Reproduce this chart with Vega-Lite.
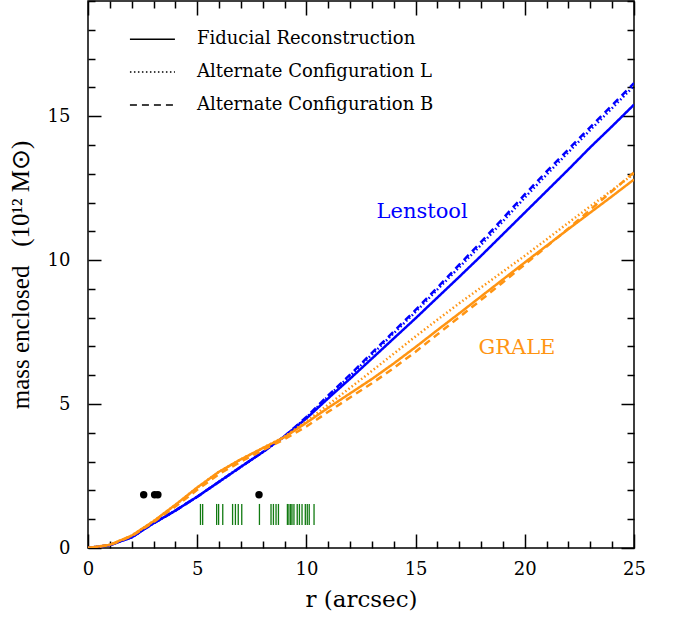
{
  "$schema": "https://vega.github.io/schema/vega-lite/v6.json",
  "width": 546,
  "height": 547,
  "autosize": "none",
  "padding": {"left": 88, "top": 1, "right": 47, "bottom": 69},
  "background": "white",
  "view": {"stroke": "black", "strokeWidth": 1.5},
  "config": {
    "font": "DejaVu Serif",
    "axis": {"domain": false, "grid": false, "tickColor": "black", "tickWidth": 1.5, "labelColor": "black", "labelFont": "DejaVu Serif", "labelFontSize": 18, "titleFont": "DejaVu Serif", "titleFontWeight": "normal", "titleColor": "black"}
  },
  "datasets": {
    "curves": [
      {"model": "Lenstool", "cfg": "F", "r": 0, "m": 0},
      {"model": "Lenstool", "cfg": "F", "r": 1, "m": 0.1},
      {"model": "Lenstool", "cfg": "F", "r": 2, "m": 0.37},
      {"model": "Lenstool", "cfg": "F", "r": 3, "m": 0.86},
      {"model": "Lenstool", "cfg": "F", "r": 4, "m": 1.3},
      {"model": "Lenstool", "cfg": "F", "r": 5, "m": 1.78},
      {"model": "Lenstool", "cfg": "F", "r": 6, "m": 2.3},
      {"model": "Lenstool", "cfg": "F", "r": 7, "m": 2.82},
      {"model": "Lenstool", "cfg": "F", "r": 8, "m": 3.33},
      {"model": "Lenstool", "cfg": "F", "r": 9, "m": 3.88},
      {"model": "Lenstool", "cfg": "F", "r": 10, "m": 4.5},
      {"model": "Lenstool", "cfg": "F", "r": 11, "m": 5.2},
      {"model": "Lenstool", "cfg": "F", "r": 12, "m": 5.88},
      {"model": "Lenstool", "cfg": "F", "r": 13, "m": 6.58},
      {"model": "Lenstool", "cfg": "F", "r": 14, "m": 7.28},
      {"model": "Lenstool", "cfg": "F", "r": 15, "m": 7.98},
      {"model": "Lenstool", "cfg": "F", "r": 16, "m": 8.7},
      {"model": "Lenstool", "cfg": "F", "r": 17, "m": 9.42},
      {"model": "Lenstool", "cfg": "F", "r": 18, "m": 10.15},
      {"model": "Lenstool", "cfg": "F", "r": 19, "m": 10.9},
      {"model": "Lenstool", "cfg": "F", "r": 20, "m": 11.65},
      {"model": "Lenstool", "cfg": "F", "r": 21, "m": 12.4},
      {"model": "Lenstool", "cfg": "F", "r": 22, "m": 13.15},
      {"model": "Lenstool", "cfg": "F", "r": 23, "m": 13.92},
      {"model": "Lenstool", "cfg": "F", "r": 24, "m": 14.65},
      {"model": "Lenstool", "cfg": "F", "r": 25, "m": 15.4},
      {"model": "Lenstool", "cfg": "L", "r": 0, "m": 0},
      {"model": "Lenstool", "cfg": "L", "r": 1, "m": 0.1},
      {"model": "Lenstool", "cfg": "L", "r": 2, "m": 0.37},
      {"model": "Lenstool", "cfg": "L", "r": 3, "m": 0.86},
      {"model": "Lenstool", "cfg": "L", "r": 4, "m": 1.3},
      {"model": "Lenstool", "cfg": "L", "r": 5, "m": 1.78},
      {"model": "Lenstool", "cfg": "L", "r": 6, "m": 2.3},
      {"model": "Lenstool", "cfg": "L", "r": 7, "m": 2.82},
      {"model": "Lenstool", "cfg": "L", "r": 8, "m": 3.33},
      {"model": "Lenstool", "cfg": "L", "r": 9, "m": 3.88},
      {"model": "Lenstool", "cfg": "L", "r": 10, "m": 4.53},
      {"model": "Lenstool", "cfg": "L", "r": 11, "m": 5.27},
      {"model": "Lenstool", "cfg": "L", "r": 12, "m": 5.98},
      {"model": "Lenstool", "cfg": "L", "r": 13, "m": 6.72},
      {"model": "Lenstool", "cfg": "L", "r": 14, "m": 7.46},
      {"model": "Lenstool", "cfg": "L", "r": 15, "m": 8.2},
      {"model": "Lenstool", "cfg": "L", "r": 16, "m": 8.98},
      {"model": "Lenstool", "cfg": "L", "r": 17, "m": 9.75},
      {"model": "Lenstool", "cfg": "L", "r": 18, "m": 10.53},
      {"model": "Lenstool", "cfg": "L", "r": 19, "m": 11.35},
      {"model": "Lenstool", "cfg": "L", "r": 20, "m": 12.17},
      {"model": "Lenstool", "cfg": "L", "r": 21, "m": 12.97},
      {"model": "Lenstool", "cfg": "L", "r": 22, "m": 13.75},
      {"model": "Lenstool", "cfg": "L", "r": 23, "m": 14.52},
      {"model": "Lenstool", "cfg": "L", "r": 24, "m": 15.28},
      {"model": "Lenstool", "cfg": "L", "r": 25, "m": 16.05},
      {"model": "Lenstool", "cfg": "B", "r": 0, "m": 0},
      {"model": "Lenstool", "cfg": "B", "r": 1, "m": 0.1},
      {"model": "Lenstool", "cfg": "B", "r": 2, "m": 0.37},
      {"model": "Lenstool", "cfg": "B", "r": 3, "m": 0.86},
      {"model": "Lenstool", "cfg": "B", "r": 4, "m": 1.3},
      {"model": "Lenstool", "cfg": "B", "r": 5, "m": 1.78},
      {"model": "Lenstool", "cfg": "B", "r": 6, "m": 2.3},
      {"model": "Lenstool", "cfg": "B", "r": 7, "m": 2.82},
      {"model": "Lenstool", "cfg": "B", "r": 8, "m": 3.33},
      {"model": "Lenstool", "cfg": "B", "r": 9, "m": 3.88},
      {"model": "Lenstool", "cfg": "B", "r": 10, "m": 4.55},
      {"model": "Lenstool", "cfg": "B", "r": 11, "m": 5.3},
      {"model": "Lenstool", "cfg": "B", "r": 12, "m": 6.02},
      {"model": "Lenstool", "cfg": "B", "r": 13, "m": 6.78},
      {"model": "Lenstool", "cfg": "B", "r": 14, "m": 7.52},
      {"model": "Lenstool", "cfg": "B", "r": 15, "m": 8.27},
      {"model": "Lenstool", "cfg": "B", "r": 16, "m": 9.05},
      {"model": "Lenstool", "cfg": "B", "r": 17, "m": 9.84},
      {"model": "Lenstool", "cfg": "B", "r": 18, "m": 10.63},
      {"model": "Lenstool", "cfg": "B", "r": 19, "m": 11.45},
      {"model": "Lenstool", "cfg": "B", "r": 20, "m": 12.28},
      {"model": "Lenstool", "cfg": "B", "r": 21, "m": 13.08},
      {"model": "Lenstool", "cfg": "B", "r": 22, "m": 13.85},
      {"model": "Lenstool", "cfg": "B", "r": 23, "m": 14.62},
      {"model": "Lenstool", "cfg": "B", "r": 24, "m": 15.38},
      {"model": "Lenstool", "cfg": "B", "r": 25, "m": 16.15},
      {"model": "GRALE", "cfg": "F", "r": 0, "m": 0},
      {"model": "GRALE", "cfg": "F", "r": 1, "m": 0.11},
      {"model": "GRALE", "cfg": "F", "r": 2, "m": 0.43},
      {"model": "GRALE", "cfg": "F", "r": 3, "m": 0.93},
      {"model": "GRALE", "cfg": "F", "r": 4, "m": 1.5},
      {"model": "GRALE", "cfg": "F", "r": 5, "m": 2.1},
      {"model": "GRALE", "cfg": "F", "r": 6, "m": 2.65},
      {"model": "GRALE", "cfg": "F", "r": 7, "m": 3.08},
      {"model": "GRALE", "cfg": "F", "r": 8, "m": 3.47},
      {"model": "GRALE", "cfg": "F", "r": 9, "m": 3.85},
      {"model": "GRALE", "cfg": "F", "r": 10, "m": 4.35},
      {"model": "GRALE", "cfg": "F", "r": 11, "m": 4.87},
      {"model": "GRALE", "cfg": "F", "r": 12, "m": 5.37},
      {"model": "GRALE", "cfg": "F", "r": 13, "m": 5.87},
      {"model": "GRALE", "cfg": "F", "r": 14, "m": 6.41},
      {"model": "GRALE", "cfg": "F", "r": 15, "m": 6.98},
      {"model": "GRALE", "cfg": "F", "r": 16, "m": 7.57},
      {"model": "GRALE", "cfg": "F", "r": 17, "m": 8.15},
      {"model": "GRALE", "cfg": "F", "r": 18, "m": 8.74},
      {"model": "GRALE", "cfg": "F", "r": 19, "m": 9.33},
      {"model": "GRALE", "cfg": "F", "r": 20, "m": 9.92},
      {"model": "GRALE", "cfg": "F", "r": 21, "m": 10.5},
      {"model": "GRALE", "cfg": "F", "r": 22, "m": 11.08},
      {"model": "GRALE", "cfg": "F", "r": 23, "m": 11.65},
      {"model": "GRALE", "cfg": "F", "r": 24, "m": 12.22},
      {"model": "GRALE", "cfg": "F", "r": 25, "m": 12.8},
      {"model": "GRALE", "cfg": "L", "r": 0, "m": 0},
      {"model": "GRALE", "cfg": "L", "r": 1, "m": 0.11},
      {"model": "GRALE", "cfg": "L", "r": 2, "m": 0.43},
      {"model": "GRALE", "cfg": "L", "r": 3, "m": 0.93},
      {"model": "GRALE", "cfg": "L", "r": 4, "m": 1.5},
      {"model": "GRALE", "cfg": "L", "r": 5, "m": 2.1},
      {"model": "GRALE", "cfg": "L", "r": 6, "m": 2.65},
      {"model": "GRALE", "cfg": "L", "r": 7, "m": 3.08},
      {"model": "GRALE", "cfg": "L", "r": 8, "m": 3.47},
      {"model": "GRALE", "cfg": "L", "r": 9, "m": 3.87},
      {"model": "GRALE", "cfg": "L", "r": 10, "m": 4.4},
      {"model": "GRALE", "cfg": "L", "r": 11, "m": 4.98},
      {"model": "GRALE", "cfg": "L", "r": 12, "m": 5.56},
      {"model": "GRALE", "cfg": "L", "r": 13, "m": 6.15},
      {"model": "GRALE", "cfg": "L", "r": 14, "m": 6.75},
      {"model": "GRALE", "cfg": "L", "r": 15, "m": 7.35},
      {"model": "GRALE", "cfg": "L", "r": 16, "m": 7.93},
      {"model": "GRALE", "cfg": "L", "r": 17, "m": 8.5},
      {"model": "GRALE", "cfg": "L", "r": 18, "m": 9.05},
      {"model": "GRALE", "cfg": "L", "r": 19, "m": 9.6},
      {"model": "GRALE", "cfg": "L", "r": 20, "m": 10.15},
      {"model": "GRALE", "cfg": "L", "r": 21, "m": 10.72},
      {"model": "GRALE", "cfg": "L", "r": 22, "m": 11.3},
      {"model": "GRALE", "cfg": "L", "r": 23, "m": 11.87},
      {"model": "GRALE", "cfg": "L", "r": 24, "m": 12.43},
      {"model": "GRALE", "cfg": "L", "r": 25, "m": 13.0},
      {"model": "GRALE", "cfg": "B", "r": 0, "m": 0},
      {"model": "GRALE", "cfg": "B", "r": 1, "m": 0.1},
      {"model": "GRALE", "cfg": "B", "r": 2, "m": 0.41},
      {"model": "GRALE", "cfg": "B", "r": 3, "m": 0.9},
      {"model": "GRALE", "cfg": "B", "r": 4, "m": 1.44},
      {"model": "GRALE", "cfg": "B", "r": 5, "m": 2.02},
      {"model": "GRALE", "cfg": "B", "r": 6, "m": 2.57},
      {"model": "GRALE", "cfg": "B", "r": 7, "m": 3.0},
      {"model": "GRALE", "cfg": "B", "r": 8, "m": 3.4},
      {"model": "GRALE", "cfg": "B", "r": 9, "m": 3.78},
      {"model": "GRALE", "cfg": "B", "r": 10, "m": 4.22},
      {"model": "GRALE", "cfg": "B", "r": 11, "m": 4.73},
      {"model": "GRALE", "cfg": "B", "r": 12, "m": 5.23},
      {"model": "GRALE", "cfg": "B", "r": 13, "m": 5.72},
      {"model": "GRALE", "cfg": "B", "r": 14, "m": 6.25},
      {"model": "GRALE", "cfg": "B", "r": 15, "m": 6.82},
      {"model": "GRALE", "cfg": "B", "r": 16, "m": 7.42},
      {"model": "GRALE", "cfg": "B", "r": 17, "m": 8.02},
      {"model": "GRALE", "cfg": "B", "r": 18, "m": 8.62},
      {"model": "GRALE", "cfg": "B", "r": 19, "m": 9.23},
      {"model": "GRALE", "cfg": "B", "r": 20, "m": 9.85},
      {"model": "GRALE", "cfg": "B", "r": 21, "m": 10.47},
      {"model": "GRALE", "cfg": "B", "r": 22, "m": 11.1},
      {"model": "GRALE", "cfg": "B", "r": 23, "m": 11.75},
      {"model": "GRALE", "cfg": "B", "r": 24, "m": 12.4},
      {"model": "GRALE", "cfg": "B", "r": 25, "m": 13.05}
    ],
    "images": [
      {"r": 5.15}, {"r": 5.25}, {"r": 5.89}, {"r": 5.98}, {"r": 6.17}, {"r": 6.62}, {"r": 6.75}, {"r": 6.88}, {"r": 7.04},
      {"r": 7.85}, {"r": 8.38}, {"r": 8.49}, {"r": 8.61}, {"r": 8.72}, {"r": 9.13}, {"r": 9.2}, {"r": 9.28}, {"r": 9.34},
      {"r": 9.43}, {"r": 9.58}, {"r": 9.68}, {"r": 9.8}, {"r": 9.95}, {"r": 10.04}, {"r": 10.13}, {"r": 10.35}
    ],
    "dots": [
      {"r": 2.55, "m": 1.85}, {"r": 3.05, "m": 1.85}, {"r": 3.2, "m": 1.85}, {"r": 7.83, "m": 1.85}
    ],
    "legend": [
      {"cfg": "F", "x1": 1.92, "x2": 3.98, "y": 17.67, "label": "Fiducial Reconstruction"},
      {"cfg": "L", "x1": 1.92, "x2": 3.98, "y": 16.53, "label": "Alternate Configuration L"},
      {"cfg": "B", "x1": 1.92, "x2": 3.98, "y": 15.39, "label": "Alternate Configuration B"}
    ],
    "notes": [
      {"model": "Lenstool", "r": 15.3, "m": 11.67},
      {"model": "GRALE", "r": 19.64, "m": 6.95}
    ]
  },
  "resolve": {"axis": {"x": "independent", "y": "independent"}},
  "layer": [
    {
      "data": {"name": "curves"},
      "transform": [{"filter": "datum.model === 'Lenstool'"}],
      "mark": {"type": "line", "strokeWidth": 2.5, "clip": true},
      "encoding": {
        "x": {"field": "r", "type": "quantitative", "scale": {"domain": [0, 25], "nice": false, "zero": false},
          "axis": {"orient": "bottom", "values": [0,1,2,3,4,5,6,7,8,9,10,11,12,13,14,15,16,17,18,19,20,21,22,23,24,25],
            "tickSize": {"condition": {"test": "datum.value % 5 === 0", "value": -14}, "value": -7},
            "labelExpr": "datum.value % 5 === 0 ? datum.label : ''", "labelPadding": 26, "labelFlush": false, "labelOverlap": false,
            "title": "r (arcsec)", "titleFontSize": 23, "titlePadding": 3}},
        "y": {"field": "m", "type": "quantitative", "scale": {"domain": [0, 19], "nice": false, "zero": false},
          "axis": {"orient": "left", "values": [0,1,2,3,4,5,6,7,8,9,10,11,12,13,14,15,16,17,18,19],
            "tickSize": {"condition": {"test": "datum.value % 5 === 0", "value": -13}, "value": -7},
            "labelExpr": "datum.value % 5 === 0 ? datum.label : ''", "labelPadding": 31, "labelFlush": false, "labelOverlap": false,
            "title": "mass enclosed\u00a0\u00a0\u00a0(10¹²\u00a0M⊙)", "titleFont": "Liberation Serif", "titleFontSize": 25, "titlePadding": 14}},
        "detail": {"field": "cfg"},
        "color": {"field": "model", "type": "nominal", "scale": {"domain": ["Lenstool", "GRALE"], "range": ["#0000ff", "#ff9412"]}, "legend": null},
        "strokeDash": {"field": "cfg", "type": "nominal", "scale": {"domain": ["F", "L", "B"], "range": [[1, 0], [1.5, 2.5], [7, 5]]}, "legend": null}
      }
    },
    {
      "data": {"name": "curves"},
      "transform": [{"filter": "datum.model === 'GRALE'"}],
      "mark": {"type": "line", "strokeWidth": 2.5, "clip": true},
      "encoding": {
        "x": {"field": "r", "type": "quantitative", "axis": null},
        "y": {"field": "m", "type": "quantitative", "axis": null},
        "detail": {"field": "cfg"},
        "color": {"field": "model", "type": "nominal", "legend": null},
        "strokeDash": {"field": "cfg", "type": "nominal", "legend": null}
      }
    },
    {
      "data": {"name": "images"},
      "mark": {"type": "rule", "color": "#117a11", "strokeWidth": 1.3},
      "encoding": {
        "x": {"field": "r", "type": "quantitative", "axis": null},
        "y": {"datum": 0.8, "type": "quantitative", "axis": null},
        "y2": {"datum": 1.53}
      }
    },
    {
      "data": {"name": "dots"},
      "mark": {"type": "circle", "color": "black", "opacity": 1, "size": 55},
      "encoding": {
        "x": {"field": "r", "type": "quantitative",
          "axis": {"orient": "top", "values": [0,1,2,3,4,5,6,7,8,9,10,11,12,13,14,15,16,17,18,19,20,21,22,23,24,25],
            "tickSize": {"condition": {"test": "datum.value % 5 === 0", "value": -14}, "value": -7},
            "labels": false, "title": null}},
        "y": {"field": "m", "type": "quantitative",
          "axis": {"orient": "right", "values": [0,1,2,3,4,5,6,7,8,9,10,11,12,13,14,15,16,17,18,19],
            "tickSize": {"condition": {"test": "datum.value % 5 === 0", "value": -13}, "value": -7},
            "labels": false, "title": null}}
      }
    },
    {
      "data": {"name": "legend"},
      "mark": {"type": "rule", "color": "black", "strokeWidth": 1.5},
      "encoding": {
        "x": {"field": "x1", "type": "quantitative", "axis": null},
        "x2": {"field": "x2"},
        "y": {"field": "y", "type": "quantitative", "axis": null},
        "strokeDash": {"field": "cfg", "type": "nominal", "legend": null}
      }
    },
    {
      "data": {"name": "legend"},
      "mark": {"type": "text", "align": "left", "baseline": "middle", "font": "DejaVu Serif", "fontSize": 18, "color": "black"},
      "encoding": {
        "x": {"datum": 4.99, "type": "quantitative", "axis": null},
        "y": {"field": "y", "type": "quantitative", "axis": null},
        "text": {"field": "label"}
      }
    },
    {
      "data": {"name": "notes"},
      "mark": {"type": "text", "align": "center", "baseline": "middle", "font": "DejaVu Serif", "fontSize": 21},
      "encoding": {
        "x": {"field": "r", "type": "quantitative", "axis": null},
        "y": {"field": "m", "type": "quantitative", "axis": null},
        "text": {"field": "model"},
        "color": {"field": "model", "type": "nominal", "legend": null}
      }
    }
  ]
}
